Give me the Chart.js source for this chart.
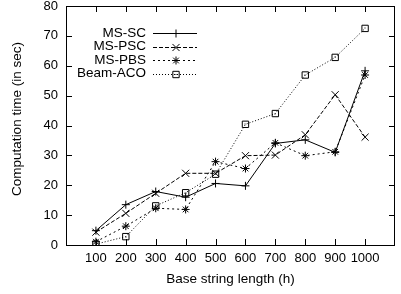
<!DOCTYPE html>
<html>
<head>
<meta charset="utf-8">
<script src="https://cdn.jsdelivr.net/npm/chart.js@4.4.0/dist/chart.umd.min.js"></script>
<style>
  html, body { margin: 0; padding: 0; background: #fff; }
  canvas { display: block; }
</style>
</head>
<body>
<canvas id="chart" width="401" height="294"></canvas>
<script>
// ── Data ──────────────────────────────────────────────────────────────────────
const lengths  = [100, 200, 300, 400, 500, 600, 700, 800, 900, 1000];
const msSC     = [4.8, 13.5, 17.9, 16.0, 20.6, 19.8, 34.0, 35.2, 31.0, 58.3];
const msPSC    = [4.3, 10.6, 17.3, 24.0, 24.0, 29.9, 30.1, 36.9, 50.3, 36.1];
const msPBS    = [1.1, 6.3, 12.3, 11.9, 27.9, 25.6, 34.2, 29.9, 31.2, 56.9];
const beamACO  = [0.3, 2.8, 13.1, 17.5, 23.7, 40.4, 44.0, 56.9, 62.8, 72.5];
const xTicks   = [100, 200, 300, 400, 500, 600, 700, 800, 900, 1000];
const yTicks   = [0, 10, 20, 30, 40, 50, 60, 70, 80];
const yTitle   = 'Computation time (in sec)';

const FAMILY = '"Liberation Sans", Arial, Helvetica, sans-serif';
const TICK_FONT  = { family: FAMILY, size: 13 };
const LABEL_FONT = { family: FAMILY, size: 13.5 };

function pts(vals) {
  return lengths.map((x, i) => ({ x: x, y: vals[i] }));
}

function series(label, vals, dash, style, r) {
  return {
    label: label, data: pts(vals),
    borderColor: '#000', borderWidth: 1, borderDash: dash,
    pointStyle: style, pointRadius: r, pointBorderColor: '#000',
    pointBackgroundColor: 'rgba(0,0,0,0)', pointBorderWidth: 1,
    tension: 0, fill: false
  };
}

// ── Frame, inside ticks, y title and legend (gnuplot look) ────────────────────
const gnuplotLook = {
  id: 'gnuplotLook',
  afterDatasetsDraw(chart) {
    const ctx = chart.ctx, a = chart.chartArea;
    const xs = chart.scales.x, ys = chart.scales.y;
    ctx.save();
    ctx.strokeStyle = '#000';
    ctx.lineWidth = 1;
    ctx.setLineDash([]);
    ctx.strokeRect(Math.round(a.left) + 0.5, Math.round(a.top) + 0.5,
                   Math.round(a.right - a.left) - 1, Math.round(a.bottom - a.top));
    ctx.beginPath();
    xTicks.forEach(v => {
      const px = Math.round(xs.getPixelForValue(v)) + 0.5;
      ctx.moveTo(px, a.bottom); ctx.lineTo(px, a.bottom - 6);
      ctx.moveTo(px, a.top);    ctx.lineTo(px, a.top + 6);
    });
    yTicks.forEach(v => {
      const py = Math.round(ys.getPixelForValue(v)) + 0.5;
      ctx.moveTo(a.left, py);  ctx.lineTo(a.left + 6, py);
      ctx.moveTo(a.right, py); ctx.lineTo(a.right - 6, py);
    });
    ctx.stroke();

    // dot in the middle of the Beam-ACO boxes
    ctx.fillStyle = '#000';
    chart.getDatasetMeta(3).data.forEach(p => {
      ctx.fillRect(Math.round(p.x) - 0.5, Math.round(p.y) - 0.5, 1, 1);
    });

    ctx.font = LABEL_FONT.size + 'px ' + FAMILY;

    // y axis title (gnuplot puts it a bit above the plot centre)
    ctx.save();
    ctx.translate(17, 119);
    ctx.rotate(-Math.PI / 2);
    ctx.textAlign = 'center';
    ctx.textBaseline = 'middle';
    ctx.fillText(yTitle, 0, 0);
    ctx.restore();

    // legend
    ctx.textAlign = 'right';
    ctx.textBaseline = 'middle';
    chart.data.datasets.forEach((ds, i) => {
      const y = 33 + i * 13.5;
      ctx.fillStyle = '#000';
      ctx.fillText(ds.label, 146, y);
      ctx.beginPath();
      ctx.setLineDash(ds.borderDash);
      ctx.moveTo(153, Math.round(y) + 0.5);
      ctx.lineTo(197, Math.round(y) + 0.5);
      ctx.stroke();
      ctx.setLineDash([]);
      ctx.fillStyle = 'rgba(0,0,0,0)';
      Chart.helpers.drawPoint(ctx, { pointStyle: ds.pointStyle, radius: ds.pointRadius, borderWidth: 1, rotation: 0 },
                              176, Math.round(y) + 0.5);
      if (i === 3) { ctx.fillStyle = '#000'; ctx.fillRect(175.5, Math.round(y), 1, 1); }
    });
    ctx.restore();
  }
};

// ── Chart ─────────────────────────────────────────────────────────────────────
new Chart(document.getElementById('chart'), {
  type: 'line',
  data: {
    datasets: [
      series('MS-SC',    msSC,    [],     'cross',    4),
      series('MS-PSC',   msPSC,   [4, 2], 'crossRot', 5),
      series('MS-PBS',   msPBS,   [2, 3], 'star',     4),
      series('Beam-ACO', beamACO, [1, 2], 'rect',     4.5)
    ]
  },
  options: {
    responsive: false,
    animation: false,
    layout: { padding: { top: 6, right: 1, left: 0, bottom: 0 } },
    plugins: { legend: { display: false }, tooltip: { enabled: false } },
    scales: {
      x: {
        type: 'linear', min: 0, max: 1100,
        grid: { display: false, drawTicks: false },
        border: { display: false },
        ticks: {
          stepSize: 100, padding: 6, color: '#000', font: TICK_FONT, maxRotation: 0, autoSkip: false,
          callback: v => (v === 0 || v === 1100) ? '' : v
        },
        title: { display: true, text: 'Base string length (h)', color: '#000', font: LABEL_FONT,
                 padding: { top: 0, bottom: 7 } },
        afterFit(s) { s.height = 49; s.paddingLeft = 0; s.paddingRight = 0; }
      },
      y: {
        min: 0, max: 80,
        grid: { display: false, drawTicks: false },
        border: { display: false },
        ticks: { stepSize: 10, padding: 8, color: '#000', font: TICK_FONT, autoSkip: false },
        afterFit(s) { s.width = 66; s.paddingTop = 0; s.paddingBottom = 0; }
      }
    }
  },
  plugins: [gnuplotLook]
});
</script>
</body>
</html>
